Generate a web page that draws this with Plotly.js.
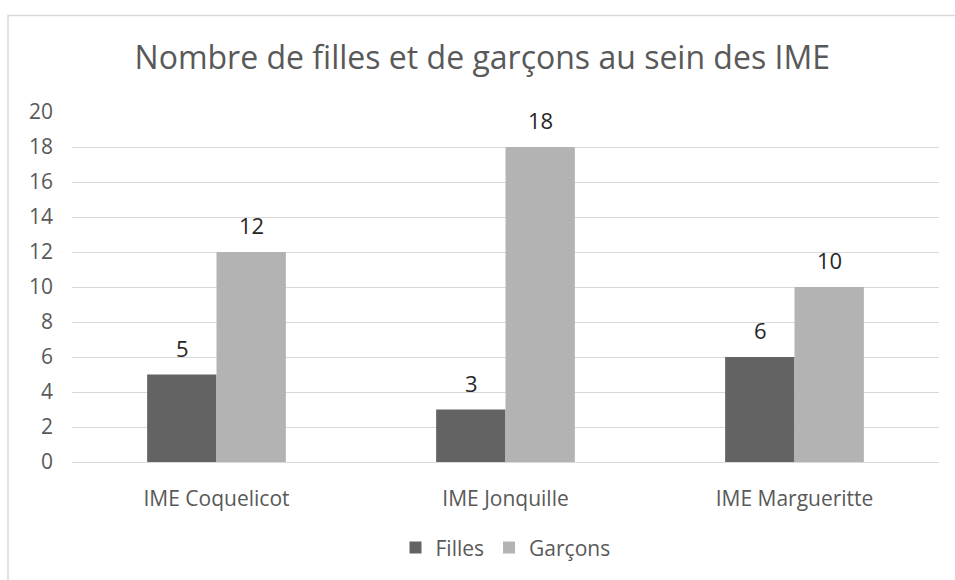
<!DOCTYPE html>
<html>
<head>
<meta charset="utf-8">
<script src="https://cdn.plot.ly/plotly-3.0.1.min.js"></script>
<style>html,body{margin:0;padding:0;background:#fff;}#chart{width:955px;height:580px;}</style>
</head>
<body>
<div id="chart"></div>
<script>
const categories = ["IME Coquelicot", "IME Jonquille", "IME Margueritte"];
const filles = [5, 3, 6];
const garcons = [12, 18, 10];
const seriesNames = ["Filles", "Garçons"];
const yTicks = [0, 2, 4, 6, 8, 10, 12, 14, 16, 18, 20];

const FONT = "Open Sans, Noto Sans, sans-serif";
const traces = [
  {type: "bar", name: seriesNames[0], x: categories, y: filles, marker: {color: "#636363"}, hoverinfo: "none"},
  {type: "bar", name: seriesNames[1], x: categories, y: garcons, marker: {color: "#b3b3b3"}, hoverinfo: "none"}
];

// Data labels positioned through axis scales (category + value), shifted to the bar's offset within the group
const barPx = 69;
const annotations = [];
[filles, garcons].forEach((vals, si) => {
  vals.forEach((v, i) => {
    annotations.push({x: categories[i], y: v, xref: "x", yref: "y", text: String(v), showarrow: false,
      xshift: (si === 0 ? -1 : 1) * barPx / 2, yshift: 10, yanchor: "bottom",
      font: {size: 22, color: "#262626", family: FONT}});
  });
});

const layout = {
  width: 955, height: 580,
  margin: {l: 72, r: 16, t: 112, b: 113},
  paper_bgcolor: "#fff", plot_bgcolor: "#fff",
  font: {family: FONT, color: "#595959", size: 21},
  title: {text: "Nombre de filles et de garçons au sein des IME", x: 0.505, xanchor: "center",
          y: 0.9, yanchor: "middle", font: {size: 32, color: "#595959", family: FONT}},
  barmode: "group", bargap: 0.52, bargroupgap: 0,
  xaxis: {type: "category", showline: false, ticks: "", tickfont: {size: 21, color: "#595959"}, ticklabelstandoff: 22},
  yaxis: {range: [0, 20], tickvals: yTicks, ticktext: yTicks.map(String), showgrid: true, gridcolor: "#d9d9d9",
          gridwidth: 1, zeroline: true, zerolinecolor: "#d9d9d9", zerolinewidth: 1, showline: false,
          tickfont: {size: 21, color: "#595959"}, ticklabelstandoff: 18},
  legend: {orientation: "h", x: 0.5, xanchor: "center", y: -0.245, yanchor: "middle",
           font: {size: 21, color: "#595959"}, itemwidth: 30, traceorder: "normal"},
  annotations: annotations,
  shapes: [{type: "rect", xref: "paper", yref: "paper", x0: -0.0738, x1: 1.2, y0: -0.5, y1: 1.276,
            line: {color: "#d9d9d9", width: 1.5}, fillcolor: "rgba(0,0,0,0)", layer: "below"}],
  showlegend: true
};
Plotly.newPlot("chart", traces, layout, {displayModeBar: false, staticPlot: true});
</script>
</body>
</html>
